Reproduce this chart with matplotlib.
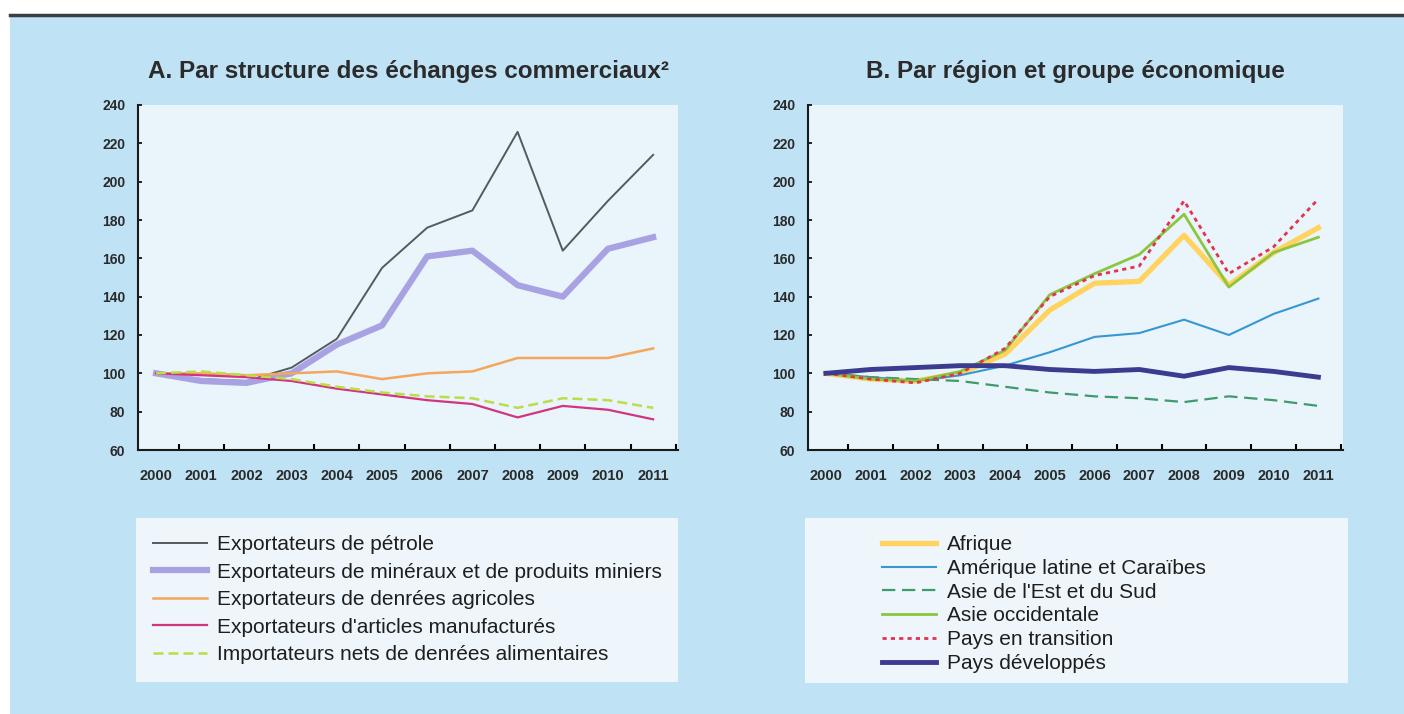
import matplotlib
matplotlib.use('Agg')
import matplotlib.pyplot as plt
from matplotlib.patches import Rectangle
from matplotlib.lines import Line2D

plt.rcParams['font.family'] = ['Liberation Sans', 'DejaVu Sans']

years = ['2000', '2001', '2002', '2003', '2004', '2005',
         '2006', '2007', '2008', '2009', '2010', '2011']

# panel A - par structure des echanges
petrole = [100, 97, 96, 103, 118, 155, 176, 185, 226, 164, 190, 214]
mineraux = [100, 96, 95, 100, 115, 125, 161, 164, 146, 140, 165, 171]
agricoles = [100, 100, 99, 100, 101, 97, 100, 101, 108, 108, 108, 113]
manufactures = [100, 99, 98, 96, 92, 89, 86, 84, 77, 83, 81, 76]
importateurs = [100, 101, 99, 97, 93, 90, 88, 87, 82, 87, 86, 82]

# panel B - par region
afrique = [100, 97, 96, 100, 110, 133, 147, 148, 172, 146, 163, 176]
amerique = [100, 98, 96, 99, 104, 111, 119, 121, 128, 120, 131, 139]
asie_est = [100, 98, 97, 96, 93, 90, 88, 87, 85, 88, 86, 83]
asie_occ = [100, 97, 96, 101, 112, 141, 152, 162, 183, 145, 163, 171]
transition = [100, 97, 95, 100, 113, 140, 151, 156, 190, 152, 166, 191]
developpes = [100, 102, 103, 104, 104, 102, 101, 102, 98.5, 103, 101, 98]

title_a = 'A. Par structure des échanges commerciaux²'
title_b = 'B. Par région et groupe économique'

W, H = 1404, 714
fig = plt.figure(figsize=(W / 100, H / 100), dpi=100)
fig.patch.set_facecolor('white')

# blue panel + top rule
fig.add_artist(Rectangle((10 / W, 0), 1 - 10 / W, (H - 16) / H,
                         transform=fig.transFigure, facecolor='#bfe2f5',
                         edgecolor='none', zorder=-3))
fig.add_artist(Line2D([10 / W, 1], [(H - 14.5) / H] * 2, transform=fig.transFigure,
                      color='#3a3f44', lw=2.5))

# legend boxes (behind the axes so the legends stay visible)
fig.add_artist(Rectangle((136 / W, (H - 682) / H), 542 / W, 164 / H,
                         transform=fig.transFigure, facecolor='#eef6fb',
                         edgecolor='none', zorder=-2))
fig.add_artist(Rectangle((805 / W, (H - 683) / H), 543 / W, 165 / H,
                         transform=fig.transFigure, facecolor='#eef6fb',
                         edgecolor='none', zorder=-2))


def setup(ax):
    ax.set_facecolor('#e9f4fb')
    for s in ['top', 'right']:
        ax.spines[s].set_visible(False)
    for s in ['left', 'bottom']:
        ax.spines[s].set_linewidth(1.5)
        ax.spines[s].set_color('#1a1a1a')
    ax.set_ylim(60, 240)
    ax.set_yticks(range(60, 241, 20))
    ax.set_xlim(-0.4, 11.55)
    ax.set_xticks(range(12))
    ax.set_xticklabels(years)
    ax.set_xticks([i + 0.5 for i in range(12)], minor=True)
    ax.tick_params(axis='x', which='major', length=0, pad=14)
    ax.tick_params(axis='x', which='minor', direction='in', length=4, width=1.5)
    ax.tick_params(axis='y', direction='in', length=3, width=1.2, pad=9)
    for lab in ax.get_xticklabels():
        lab.set_fontsize(10.5)
        lab.set_fontweight('bold')
        lab.set_color('#2a2a2a')
    for lab in ax.get_yticklabels():
        lab.set_fontsize(10)
        lab.set_fontweight('bold')
        lab.set_color('#2a2a2a')


x = list(range(12))

axA = fig.add_axes([138 / W, (H - 450) / H, 540 / W, 345 / H])
setup(axA)
axA.plot(x, petrole, color='#555a5e', lw=1.4, label='Exportateurs de pétrole')
axA.plot(x, mineraux, color='#a9a2e2', lw=4.5,
         label='Exportateurs de minéraux et de produits miniers')
axA.plot(x, agricoles, color='#f4a65a', lw=1.8, label='Exportateurs de denrées agricoles')
axA.plot(x, manufactures, color='#d0357e', lw=1.6,
         label="Exportateurs d'articles manufacturés")
axA.plot(x, importateurs, color='#bcdc48', lw=1.8, dashes=(4, 2),
         label='Importateurs nets de denrées alimentaires')

axB = fig.add_axes([808 / W, (H - 450) / H, 535 / W, 345 / H])
setup(axB)
axB.plot(x, afrique, color='#ffd35e', lw=3.8, label='Afrique')
axB.plot(x, amerique, color='#3797d3', lw=1.5, label='Amérique latine et Caraïbes')
axB.plot(x, asie_est, color='#3f9a6e', lw=1.6, dashes=(6, 3),
         label="Asie de l'Est et du Sud")
axB.plot(x, asie_occ, color='#8cc63f', lw=2.0, label='Asie occidentale')
axB.plot(x, transition, color='#e2334f', lw=2.0, dashes=(1.5, 1.5),
         label='Pays en transition')
axB.plot(x, developpes, color='#3b3b8f', lw=3.5, label='Pays développés')

fig.text((138 + 678) / 2 / W, (H - 78) / H, title_a, ha='center', va='baseline',
         fontsize=17.5, fontweight='bold', color='#2b2b2b')
fig.text((808 + 1343) / 2 / W, (H - 78) / H, title_b, ha='center', va='baseline',
         fontsize=17.5, fontweight='bold', color='#2b2b2b')

legA = axA.legend(loc='upper left', bbox_to_anchor=(153 / W, (H - 535) / H),
                  bbox_transform=fig.transFigure, frameon=False, fontsize=15,
                  handlelength=2.6, handletextpad=0.48, labelspacing=0.41,
                  borderpad=0, borderaxespad=0)
legB = axB.legend(loc='upper left', bbox_to_anchor=(882 / W, (H - 535) / H),
                  bbox_transform=fig.transFigure, frameon=False, fontsize=15,
                  handlelength=2.6, handletextpad=0.5, labelspacing=0.23,
                  borderpad=0, borderaxespad=0)
for leg in [legA, legB]:
    for t in leg.get_texts():
        t.set_color('#1e1e1e')

fig.savefig('out.png', dpi=100)
